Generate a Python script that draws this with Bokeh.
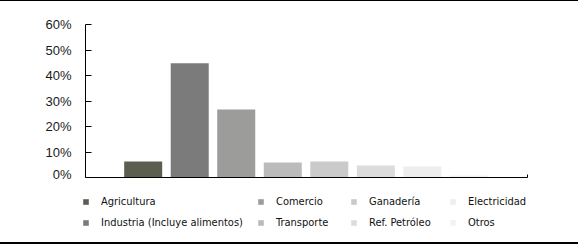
from bokeh.plotting import figure
from bokeh.layouts import column, row
from bokeh.models import (Range1d, FixedTicker, NumeralTickFormatter, Legend,
                          LegendItem, ColumnDataSource)
from bokeh.embed import file_html
from bokeh.resources import INLINE

categories = ["Agricultura", "Industria (Incluye alimentos)", "Comercio",
              "Transporte", "Ganadería", "Ref. Petróleo", "Electricidad", "Otros"]
values = [0.063, 0.448, 0.267, 0.059, 0.063, 0.047, 0.043, 0.008]
colors = ["#5c5f4f", "#7b7b7b", "#9c9c9b", "#bbbbbb", "#cacaca", "#dcdcdc",
          "#eeeeee", "#f3f3f3"]
y_ticks = [0, 0.1, 0.2, 0.3, 0.4, 0.5, 0.6]

xs = list(range(1, len(categories) + 1))
src = ColumnDataSource(dict(x=xs, top=values, color=colors, cat=categories))

W = 578
H1 = 180
H2 = 61
x_end = 9.26
p = figure(width=W, height=H1, output_backend="svg", toolbar_location=None,
           x_range=Range1d(-0.24, x_end), y_range=Range1d(0, 0.6),
           min_border_left=85, min_border_right=W - 527,
           min_border_top=23, min_border_bottom=H1 - 176)
p.outline_line_color = None
p.grid.visible = False

r = p.vbar(x="x", top="top", width=0.817, bottom=0, fill_color="color",
           line_color=None, source=src)

# y axis
ya = p.yaxis[0]
ya.ticker = FixedTicker(ticks=y_ticks)
ya.formatter = NumeralTickFormatter(format="0%")
ya.major_tick_in = 6
ya.major_tick_out = 0
ya.minor_tick_in = 0
ya.minor_tick_out = 0
ya.axis_line_color = "black"
ya.major_tick_line_color = "black"
ya.major_label_standoff = 14
ya.major_label_text_font = "Liberation Sans"
ya.major_label_text_font_size = "13px"
ya.major_label_text_color = "#1a1a1a"

# x axis: only the end tick, no labels
xa = p.xaxis[0]
xa.ticker = FixedTicker(ticks=[x_end])
xa.major_tick_in = 3
xa.major_tick_out = 0
xa.minor_tick_in = 0
xa.minor_tick_out = 0
xa.major_label_overrides = {x_end: " "}
xa.major_label_text_font_size = "1px"
xa.major_label_text_alpha = 0
xa.major_label_standoff = 0
xa.axis_line_color = "black"
xa.major_tick_line_color = "black"

# legend panel (separate figure, bars kept out of its view)
q = figure(width=W, height=H2, output_backend="svg", toolbar_location=None,
           x_axis_type=None, y_axis_type=None,
           x_range=Range1d(-0.24, x_end), y_range=Range1d(10, 11),
           min_border_left=0, min_border_right=0, min_border_top=0,
           min_border_bottom=0)
q.outline_line_color = None
q.grid.visible = False
rq = q.vbar(x="x", top="top", width=0.817, bottom=0, fill_color="color",
            line_color=None, source=src)

col_x = [82, 257, 350, 449]
for c in range(4):
    items = []
    for k in range(2):
        i = c * 2 + k
        items.append(LegendItem(label=categories[i], renderers=[rq], index=i))
    lg = Legend(items=items, location=(col_x[c], 12), orientation="vertical",
                border_line_color=None, background_fill_alpha=0,
                padding=0, margin=0, spacing=5,
                glyph_width=7, glyph_height=7, label_height=16,
                label_standoff=12,
                label_text_font="DejaVu Sans Condensed",
                label_text_font_size="11px", label_text_color="#111111")
    q.add_layout(lg, "center")

lay = column(p, row(q, spacing=0), spacing=0)
lay.styles = {"border-top": "1px solid black", "border-bottom": "2px solid black"}

open("out.html", "w").write(file_html(lay, INLINE))
